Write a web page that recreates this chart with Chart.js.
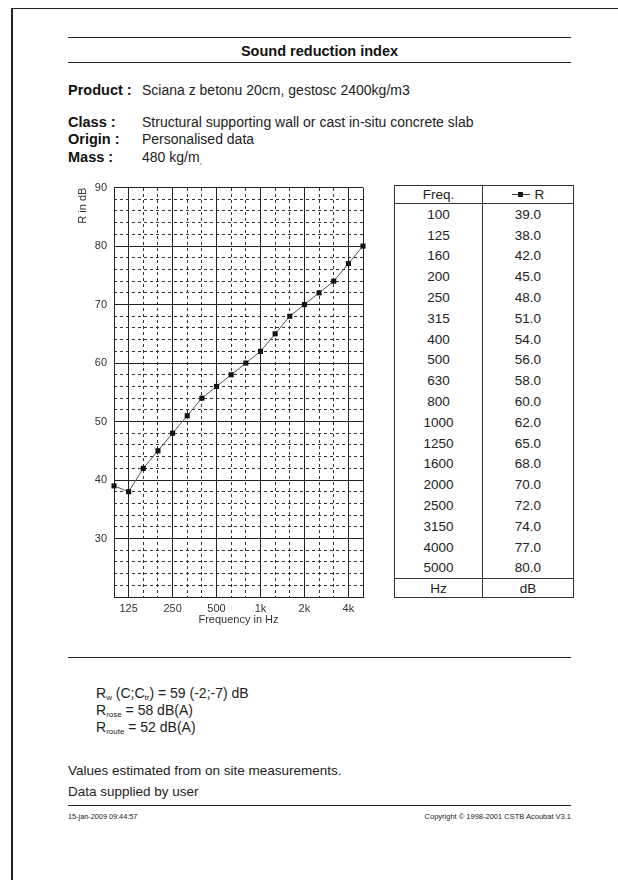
<!DOCTYPE html>
<html lang="en">
<head>
  <meta charset="UTF-8" />
  <title>Sound reduction index</title>
  <script src="https://cdn.jsdelivr.net/npm/chart.js"></script>
  <style>
    body { margin: 0; width: 618px; height: 880px; background: #fff; position: relative; overflow: hidden;
           font-family: "Liberation Sans", Arial, sans-serif; color: #222; }
    .abs { position: absolute; white-space: nowrap; line-height: 16px; font-size: 14px; }
    .rule { position: absolute; left: 68px; width: 503px; height: 1px; background: #222; }
    .lbl { font-weight: bold; color: #111; }
    sub { font-size: 8px; vertical-align: -2px; line-height: 0; }
    #chartBox { position: absolute; left: 60px; top: 174px; width: 310px; height: 458px; }
    #valTable { position: absolute; left: 394px; top: 185px; width: 180px; border-collapse: collapse;
                font-size: 13.5px; color: #222; border: 1px solid #333; }
    #valTable td { padding: 0; text-align: center; height: 20.8px; border-left: 1px solid #333; }
    #valTable tr.head td { height: 17px; border-bottom: 1px solid #333; }
    #valTable tr.foot td { height: 18px; border-top: 1px solid #333; }
    .leg { display: inline-block; width: 18px; height: 1px; background: #333; position: relative; vertical-align: 4px; margin-right: 5px; }
    .leg::after { content: ""; position: absolute; left: 6px; top: -2px; width: 5px; height: 5px; background: #111; }
  </style>
</head>
<body>
  <!-- page frame -->
  <div style="position:absolute;left:11px;top:8px;width:2px;height:880px;background:#222"></div>
  <div style="position:absolute;left:11px;top:8px;width:620px;height:1px;background:#222"></div>

  <!-- header -->
  <div class="rule" style="top:37px"></div>
  <div class="abs lbl" style="left:68px;width:503px;text-align:center;top:43px;font-size:14.5px">Sound reduction index</div>
  <div class="rule" style="top:62px"></div>

  <div class="abs lbl" style="left:68px;top:82px;font-size:14.5px">Product :</div>
  <div class="abs" style="left:142px;top:82px">Sciana z betonu 20cm, gestosc 2400kg/m3</div>
  <div class="abs lbl" style="left:68px;top:114px;font-size:14.5px">Class :</div>
  <div class="abs" style="left:142px;top:114px">Structural supporting wall or cast in-situ concrete slab</div>
  <div class="abs lbl" style="left:68px;top:131px;font-size:14.5px">Origin :</div>
  <div class="abs" style="left:142px;top:131px">Personalised data</div>
  <div class="abs lbl" style="left:68px;top:149px;font-size:14.5px">Mass :</div>
  <div class="abs" style="left:142px;top:149px">480 kg/m<sub>,</sub></div>

  <!-- chart -->
  <div id="chartBox"><canvas id="srChart"></canvas></div>

  <!-- values table -->
  <table id="valTable"><tbody id="valBody"></tbody></table>

  <!-- results -->
  <div class="rule" style="top:657px"></div>
  <div class="abs" style="left:96px;top:685px">R<sub>w</sub> (C;C<sub>tr</sub>) = 59 (-2;-7) dB</div>
  <div class="abs" style="left:96px;top:702px">R<sub>rose</sub> = 58 dB(A)</div>
  <div class="abs" style="left:96px;top:719px">R<sub>route</sub> = 52 dB(A)</div>

  <div class="abs" style="left:68px;top:763px;font-size:13.5px">Values estimated from on site measurements.</div>
  <div class="abs" style="left:68px;top:784px;font-size:13.5px">Data supplied by user</div>
  <div class="rule" style="top:805px"></div>
  <div class="abs" style="left:68px;top:812px;font-size:7.3px;line-height:9px">15-jan-2009 09:44:57</div>
  <div class="abs" style="right:47px;top:812px;font-size:7.5px;line-height:9px">Copyright © 1998-2001 CSTB Acoubat V3.1</div>

  <script>
    // third-octave bands and sound reduction index R (dB)
    const freqs = [100, 125, 160, 200, 250, 315, 400, 500, 630, 800, 1000, 1250, 1600, 2000, 2500, 3150, 4000, 5000];
    const rValues = [39, 38, 42, 45, 48, 51, 54, 56, 58, 60, 62, 65, 68, 70, 72, 74, 77, 80];
    const xTickIndex = [1, 4, 7, 10, 13, 16];
    const xTickText = ["125", "250", "500", "1k", "2k", "4k"];
    const yTickLabels = [30, 40, 50, 60, 70, 80, 90];
    const yMin = 20, yMax = 90;

    // table
    const body = document.getElementById("valBody");
    let html = '<tr class="head"><td>Freq.</td><td><span class="leg"></span>R</td></tr>';
    freqs.forEach((f, i) => {
      html += `<tr><td>${f}</td><td>${rValues[i].toFixed(1)}</td></tr>`;
    });
    html += '<tr class="foot"><td>Hz</td><td>dB</td></tr>';
    body.innerHTML = html;

    // grid positions
    const xGrid = freqs.map((f, i) => ({ value: i }));
    const yGrid = [];
    for (let v = yMin; v <= yMax; v += 2) yGrid.push({ value: v });
    const lastX = freqs.length - 1;

    const solidX = v => v % 3 === 1 || v === lastX;
    const solidY = v => v % 10 === 0;
    const none = "rgba(0,0,0,0)";

    Chart.defaults.font.family = '"Liberation Sans", Arial, sans-serif';

    new Chart(document.getElementById("srChart"), {
      type: "line",
      data: {
        datasets: [{
          label: "R",
          data: rValues.map((v, i) => ({ x: i, y: v })),
          borderColor: "#555",
          borderWidth: 1,
          pointStyle: "rect",
          pointRadius: 3.6,
          pointBackgroundColor: "#111",
          pointBorderWidth: 0,
          tension: 0,
          clip: false,
          xAxisID: "x",
          yAxisID: "y"
        }]
      },
      options: {
        responsive: true,
        maintainAspectRatio: false,
        animation: false,
        layout: { padding: { top: 12, right: 7, left: 0, bottom: 0 } },
        plugins: { legend: { display: false }, tooltip: { enabled: false } },
        scales: {
          x: {
            type: "linear", position: "bottom", min: 0, max: lastX,
            afterBuildTicks: s => { s.ticks = xGrid.map(t => ({ value: t.value })); },
            afterFit: s => { s.height = 35; },
            ticks: {
              autoSkip: false, maxRotation: 0, padding: 5, color: "#333", font: { size: 11 },
              callback: v => { const k = xTickIndex.indexOf(v); return k >= 0 ? xTickText[k] : ""; }
            },
            grid: { drawTicks: false, lineWidth: 1, color: c => (c.tick && solidX(c.tick.value)) ? "#222" : none },
            border: { color: "#222", width: 1 },
            title: { display: true, text: "Frequency in Hz", color: "#333", font: { size: 11 }, padding: { top: 0, bottom: 5 } }
          },
          xDash: {
            type: "linear", position: "top", min: 0, max: lastX,
            afterBuildTicks: s => { s.ticks = xGrid.map(t => ({ value: t.value })); },
            ticks: { display: false },
            grid: { drawTicks: false, lineWidth: 1, color: c => (c.tick && !solidX(c.tick.value) && c.tick.value !== 0) ? "#333" : none },
            border: { display: false, dash: [3, 3] }
          },
          y: {
            type: "linear", position: "left", min: yMin, max: yMax,
            afterBuildTicks: s => { s.ticks = yGrid.map(t => ({ value: t.value })); },
            afterFit: s => { s.width = 54; },
            ticks: {
              autoSkip: false, padding: 7, color: "#333", font: { size: 11 },
              callback: v => yTickLabels.includes(v) ? String(v) : ""
            },
            grid: { drawTicks: false, lineWidth: 1, color: c => (c.tick && solidY(c.tick.value)) ? "#222" : none },
            border: { color: "#222", width: 1 },
            title: { display: true, text: "R in dB", align: "end", color: "#333", font: { size: 11 }, padding: { top: 16, bottom: 0 } }
          },
          yDash: {
            type: "linear", position: "right", min: yMin, max: yMax,
            afterBuildTicks: s => { s.ticks = yGrid.map(t => ({ value: t.value })); },
            ticks: { display: false },
            grid: { drawTicks: false, lineWidth: 1, color: c => (c.tick && !solidY(c.tick.value)) ? "#333" : none },
            border: { display: false, dash: [3, 3] }
          }
        }
      }
    });
  </script>
</body>
</html>
